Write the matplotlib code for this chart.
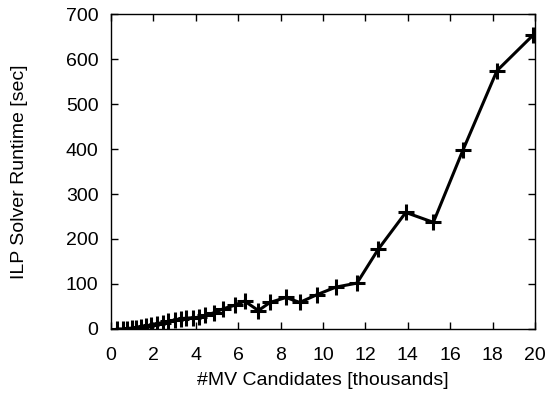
import matplotlib
matplotlib.use("Agg")
import matplotlib.pyplot as plt

# runtime vs number of MV candidates
candidates = [0.3, 0.55, 0.75, 1.0, 1.2, 1.4, 1.65, 1.9, 2.15, 2.45, 2.7, 3.0,
              3.3, 3.55, 3.85, 4.15, 4.45, 4.85, 5.3, 5.85, 6.3, 6.95, 7.5,
              8.25, 8.9, 9.7, 10.6, 11.6, 12.6, 13.9, 15.2, 16.6, 18.2, 19.9]
runtime = [0, 0, 1, 2, 3, 5, 7, 9, 12, 14, 17, 20, 23, 24, 25, 26, 30, 36,
           45, 53, 62, 41, 59, 70, 59, 76, 93, 102, 177, 259, 237, 398, 574, 653]

plt.rcParams['font.family'] = ['Liberation Sans', 'DejaVu Sans']
plt.rcParams['font.size'] = 14

fig = plt.figure(figsize=(5.53, 4.01), dpi=100)
ax = fig.add_axes([0.2007, 0.1796, 0.767, 0.7854])
ax.plot(candidates, runtime, color='black', lw=2.2, marker='+', ms=12, mew=2.2)
ax.set_xlim(0, 20)
ax.set_ylim(0, 700)
ax.set_xticks(range(0, 21, 2))
ax.set_yticks(range(0, 701, 100))
ax.tick_params(direction='in', top=True, right=True, length=5, width=1)
ax.tick_params(axis='x', pad=13)
ax.tick_params(axis='y', pad=9)
ax.set_xlabel("#MV Candidates [thousands]")
ax.set_ylabel("ILP Solver Runtime [sec]")
ax.xaxis.set_label_coords(0.5, -0.137)
ax.yaxis.set_label_coords(-0.196, 0.5)
for s in ax.spines.values():
    s.set_linewidth(1)

fig.savefig("out.png", dpi=100)
